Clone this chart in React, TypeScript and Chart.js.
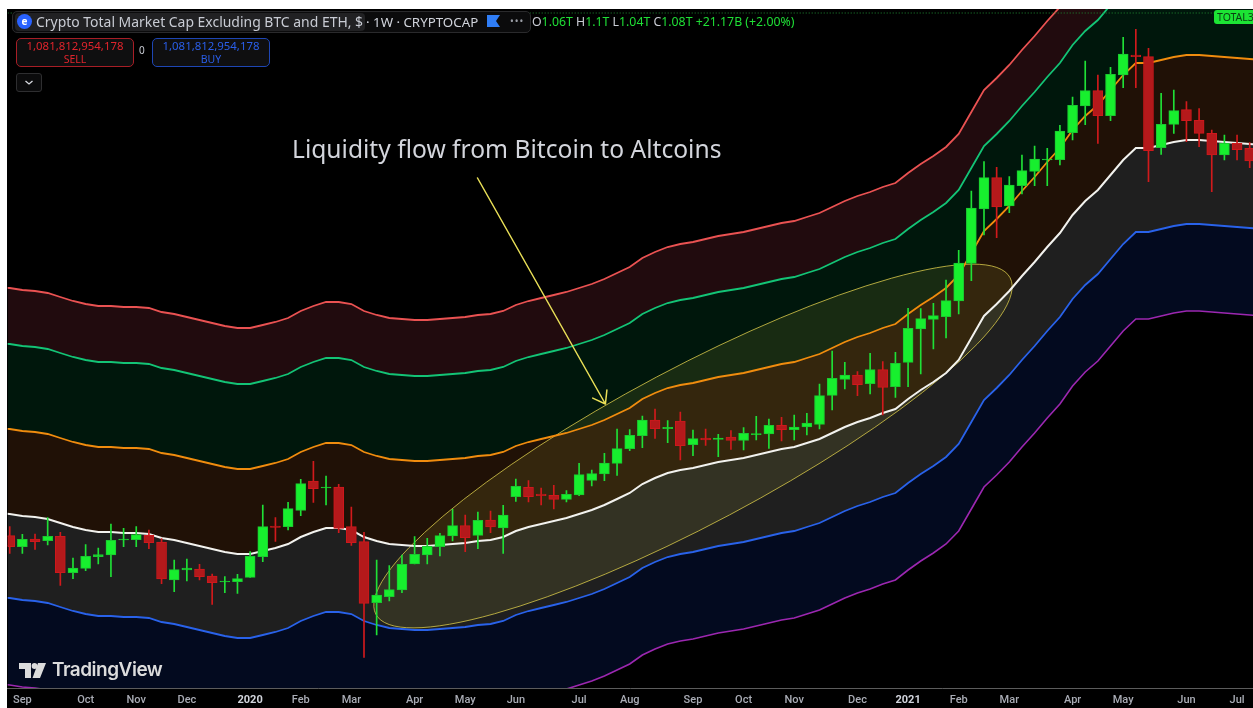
import React, { useEffect, useRef } from "react";
import { Chart, registerables } from "chart.js";

Chart.register(...registerables);

const tickWeeks = [1, 6, 10, 14, 19, 23, 27, 32, 36, 40, 45, 49, 54, 58, 62, 67, 71, 75, 79, 84, 88, 93, 97];
const tickLabels = ["Sep", "Oct", "Nov", "Dec", "2020", "Feb", "Mar", "Apr", "May", "Jun", "Jul", "Aug", "Sep", "Oct", "Nov", "Dec", "2021", "Feb", "Mar", "Apr", "May", "Jun", "Jul"];

const opens = [
  152.3, 141.3, 149, 147.3, 151.7, 115.3, 119.7, 131.3, 133, 148,
  148.3, 152.7, 146, 108, 118, 119, 112, 106, 106.3, 110.7,
  131.3, 162, 161.3, 177.7, 207, 200, 201, 161.3, 146.3, 85.3,
  91.3, 98, 124, 133, 141.3, 152, 162.3, 152.7, 168, 160,
  191.3, 200.7, 194, 192.7, 188.7, 193, 207.7, 214, 224.7, 239.3,
  252.3, 268, 259.3, 267, 243.3, 250, 248.7, 251, 247.7, 253.3,
  254, 262.7, 258.3, 261, 263.7, 292.7, 308.7, 313, 304.3, 318.3,
  301.3, 325.7, 359, 368.7, 371.3, 387, 424.7, 479, 510.3, 482,
  502.3, 516.7, 528, 528.3, 555.3, 582, 597.3, 572.3, 613, 633,
  631.3, 540.3, 563.7, 578.3, 567.7, 554.7, 533, 544.7, 539.7,
];
const closes = [
  141.3, 148.7, 146.3, 151.7, 115.3, 120, 131.7, 133.3, 147.7, 149,
  153.3, 145.3, 109, 118.3, 120, 111.3, 105.3, 107, 109.3, 131.7,
  161.3, 160.7, 179.3, 204.3, 199.3, 201, 159.7, 145.3, 84.7, 93,
  98.3, 123.7, 133.7, 141.7, 152.3, 162.3, 150.3, 167.7, 161, 173,
  201.7, 191.3, 192.3, 188.7, 193.7, 213.3, 214.3, 225, 239.3, 252.7,
  268, 259.3, 260.7, 242.3, 249.3, 248, 250, 247.7, 254.7, 254.3,
  262.7, 258.3, 261, 265, 292.3, 309.7, 313, 303.3, 318.3, 300.7,
  324.7, 359.7, 369.3, 372.3, 387.3, 425, 480, 510.3, 481, 503,
  517.3, 529, 529, 557, 582.7, 597.3, 572.3, 613.7, 634, 631.3,
  537.3, 563.7, 577.3, 567.3, 554.7, 533, 544.7, 538.3, 527,
];
const highs = [
  161.3, 153.7, 154, 170.3, 155.7, 130, 143.3, 140, 164, 159.7,
  161.3, 158, 149.3, 128, 129, 123.7, 114, 111.3, 113.7, 136.3,
  183, 170.3, 185.7, 208.7, 226.7, 212, 203.7, 181, 155.7, 128,
  122.3, 133, 151.3, 149.7, 154.7, 178.7, 173, 176, 177, 182.7,
  209, 207.3, 200, 202.7, 197.3, 224.7, 218, 234.7, 259, 258.3,
  272, 279, 267.3, 276, 258, 259, 253.7, 257.3, 260.3, 271.7,
  269, 270.7, 273, 274.7, 304, 337, 325.7, 316.3, 334.7, 326.3,
  335.7, 379.7, 379.3, 384.7, 408, 437.7, 497, 526.3, 520.7, 511.3,
  533, 542, 539.7, 562.7, 591, 627, 613, 620.7, 650.7, 658.7,
  639.7, 594.7, 598, 586.3, 579.3, 558, 553, 553, 545.3,
];
const lows = [
  134.7, 134.7, 138.7, 143, 102.7, 109.3, 117.3, 124, 111.3, 141.3,
  141.3, 139.3, 104.3, 96.3, 107, 108, 83.7, 95.3, 94.7, 110.7,
  126.3, 146.7, 158, 172.3, 185.7, 183, 155.3, 142.7, 30.7, 53,
  87, 95.3, 124, 124, 132, 147, 136.3, 139.3, 155.3, 134.7,
  186.7, 186, 183, 179, 186, 192.3, 202, 207.3, 212.7, 237.3,
  240.3, 249.7, 245.3, 228, 232.3, 242.7, 231.3, 238.7, 238, 248,
  239.7, 247, 248, 253, 259, 278, 299, 292.3, 294, 273,
  290.7, 301.3, 314, 339, 350, 374, 407.3, 453, 450.3, 475.3,
  494, 502.3, 502.3, 523, 548, 563.3, 544.7, 567.3, 600.3, 600.3,
  506.3, 533.7, 554.7, 546.3, 541.3, 496.3, 528, 528, 520.3,
];

// Bands run from the week before the first candle to the week after the last one.
const bandWhite = [
  175,
  174, 172, 171, 169, 165, 161, 158, 156, 156, 155,
  155, 154, 150, 148, 145, 142, 139, 136, 134, 134,
  137, 140, 144, 151, 156, 160, 160, 158, 151, 147,
  144, 143, 142, 142, 143, 144, 145, 147, 148, 151,
  157, 161, 164, 167, 170, 174, 178, 183, 189, 195,
  204, 210, 215, 218, 220, 223, 226, 228, 230, 233,
  236, 239, 241, 245, 249, 255, 261, 266, 270, 275,
  279, 289, 298, 306, 315, 328, 350, 372, 384, 397,
  412, 426, 441, 455, 473, 487, 498, 513, 528, 540,
  540, 543, 546, 548, 548, 547, 546, 545, 544, 543,
];
const bandOrange = [
  260,
  259, 257, 256, 254, 250, 246, 243, 241, 241, 240,
  240, 239, 235, 233, 230, 227, 224, 221, 219, 219,
  222, 225, 229, 236, 241, 245, 245, 243, 236, 232,
  229, 228, 227, 227, 228, 229, 230, 232, 233, 236,
  242, 246, 249, 252, 255, 259, 263, 268, 274, 280,
  289, 295, 300, 303, 305, 308, 311, 313, 315, 318,
  321, 324, 326, 330, 334, 340, 346, 351, 355, 360,
  364, 374, 383, 391, 400, 413, 435, 457, 469, 482,
  497, 511, 526, 540, 558, 572, 583, 598, 613, 625,
  625, 628, 631, 633, 633, 632, 631, 630, 629, 628,
];
const bandGreen = [
  345,
  344, 342, 341, 339, 335, 331, 328, 326, 326, 325,
  325, 324, 320, 318, 315, 312, 309, 306, 304, 304,
  307, 310, 314, 321, 326, 330, 330, 328, 321, 317,
  314, 313, 312, 312, 313, 314, 315, 317, 318, 321,
  327, 331, 334, 337, 340, 344, 348, 353, 359, 365,
  374, 380, 385, 388, 390, 393, 396, 398, 400, 403,
  406, 409, 411, 415, 419, 425, 431, 436, 440, 445,
  449, 459, 468, 476, 485, 498, 520, 542, 554, 567,
  582, 596, 611, 625, 643, 657, 668, 683, 698, 710,
  710, 713, 716, 718, 718, 717, 716, 715, 714, 713,
];
const bandRed = [
  401,
  400, 398, 397, 395, 391, 387, 384, 382, 382, 381,
  381, 380, 376, 374, 371, 368, 365, 362, 360, 360,
  363, 366, 370, 377, 382, 386, 386, 384, 377, 373,
  370, 369, 368, 368, 369, 370, 371, 373, 374, 377,
  383, 387, 390, 393, 396, 400, 404, 409, 415, 421,
  430, 436, 441, 444, 446, 449, 452, 454, 456, 459,
  462, 465, 467, 471, 475, 481, 487, 492, 496, 501,
  505, 515, 524, 532, 541, 554, 576, 598, 610, 623,
  638, 652, 667, 681, 699, 713, 724, 739, 754, 766,
  766, 769, 772, 774, 774, 773, 772, 771, 770, 769,
];
const bandBlue = [
  91,
  90, 88, 87, 85, 81, 77, 74, 72, 72, 71,
  71, 70, 66, 64, 61, 58, 55, 52, 50, 50,
  53, 56, 60, 67, 72, 76, 76, 74, 67, 63,
  60, 59, 58, 58, 59, 60, 61, 63, 64, 67,
  73, 77, 80, 83, 86, 90, 94, 99, 105, 111,
  120, 126, 131, 134, 136, 139, 142, 144, 146, 149,
  152, 155, 157, 161, 165, 171, 177, 182, 186, 191,
  195, 205, 214, 222, 231, 244, 266, 288, 300, 313,
  328, 342, 357, 371, 389, 403, 414, 429, 444, 456,
  456, 459, 462, 464, 464, 463, 462, 461, 460, 459,
];
const bandPurple = [
  4,
  3, 1, 0, -2, -6, -10, -13, -15, -15, -16,
  -16, -17, -21, -23, -26, -29, -32, -35, -37, -37,
  -34, -31, -27, -20, -15, -11, -11, -13, -20, -24,
  -27, -28, -29, -29, -28, -27, -26, -24, -23, -20,
  -14, -10, -7, -4, -1, 3, 7, 12, 18, 24,
  33, 39, 44, 47, 49, 52, 55, 57, 59, 62,
  65, 68, 70, 74, 78, 84, 90, 95, 99, 104,
  108, 118, 127, 135, 144, 157, 179, 201, 213, 226,
  241, 255, 270, 284, 302, 316, 327, 342, 357, 369,
  369, 372, 375, 377, 377, 376, 375, 374, 373, 372,
];

const lastPriceLevel = 675;
const weekRange = [-0.16, 98.26];
const levelRange = [0, 679];
const ellipseCentre = { week: 54.0, level: 242 };
const arrowFrom = { week: 36.97, level: 510 };
const arrowTo = { week: 47.08, level: 284 };

const UP = "#17ef2e";
const UP_EDGE = "#1cc731";
const UP_WICK = "#1fe036";
const DOWN = "#b4191b";
const DOWN_EDGE = "#cf181c";
const DOWN_WICK = "#d11a1c";
const FONT = '"Noto Sans", sans-serif';

const points = (vals: number[]) => vals.map((y, i) => ({ x: i - 1, y }));
const isYearTick = (c: any) => (tickLabels[tickWeeks.indexOf(c?.tick?.value)] || "").length === 4;

const drawings = {
  id: "drawings",
  beforeDatasetsDraw(chart: any) {
    const { ctx, scales, chartArea } = chart;
    ctx.save();
    ctx.beginPath();
    ctx.rect(chartArea.left, chartArea.top, chartArea.width, chartArea.height);
    ctx.clip();
    ctx.beginPath();
    ctx.ellipse(
      scales.x.getPixelForValue(ellipseCentre.week),
      scales.y.getPixelForValue(ellipseCentre.level),
      359, 78, -0.488, 0, Math.PI * 2
    );
    ctx.fillStyle = "rgba(235, 225, 80, 0.1)";
    ctx.fill();
    ctx.strokeStyle = "rgba(205, 190, 70, 0.85)";
    ctx.lineWidth = 1;
    ctx.stroke();
    ctx.restore();
  },
  afterDatasetsDraw(chart: any) {
    const { ctx, scales } = chart;
    const x0 = scales.x.getPixelForValue(arrowFrom.week);
    const y0 = scales.y.getPixelForValue(arrowFrom.level);
    const x1 = scales.x.getPixelForValue(arrowTo.week);
    const y1 = scales.y.getPixelForValue(arrowTo.level);
    const a = Math.atan2(y1 - y0, x1 - x0);
    ctx.save();
    ctx.strokeStyle = "#e9df57";
    ctx.lineWidth = 1.5;
    ctx.lineCap = "round";
    ctx.beginPath();
    ctx.moveTo(x0, y0);
    ctx.lineTo(x1, y1);
    for (const s of [-1, 1]) {
      ctx.moveTo(x1, y1);
      ctx.lineTo(x1 - 14 * Math.cos(a + s * 0.62), y1 - 14 * Math.sin(a + s * 0.62));
    }
    ctx.stroke();
    ctx.restore();
  },
};

const box = (extra: React.CSSProperties): React.CSSProperties => ({
  position: "absolute",
  boxSizing: "border-box",
  whiteSpace: "nowrap",
  fontFamily: FONT,
  ...extra,
});

function ValueButton(props: { left: number; color: string; fill: string; word: string }) {
  return (
    <div
      style={box({
        left: props.left, top: 38, width: 118, height: 29,
        border: `1px solid ${props.color}`, borderRadius: 5, background: "#0f0f10",
        color: props.fill, textAlign: "center", fontSize: 11.4, lineHeight: "12.5px", paddingTop: 1,
      })}
    >
      <div>1,081,812,954,178</div>
      <div style={{ fontSize: 10.5 }}>{props.word}</div>
    </div>
  );
}

export default function App() {
  const ref = useRef<HTMLCanvasElement>(null);

  useEffect(() => {
    const band = (label: string, vals: number[], color: string, fillColor: string | false, order: number, width = 1.8) => ({
      type: "line" as const,
      label,
      data: points(vals),
      borderColor: color,
      borderWidth: width,
      backgroundColor: fillColor || "transparent",
      fill: fillColor ? "-1" : false,
      pointRadius: 0,
      tension: 0,
      order,
    });
    const chart = new Chart(ref.current as HTMLCanvasElement, {
      data: {
        datasets: [
          band("Lower 2", bandPurple, "#9c27b0", false, 8, 1.6),
          band("Lower 1", bandBlue, "#2962ea", "#030a1f", 7),
          band("Basis", bandWhite, "#f2f2ee", "#1f1f1f", 3, 2),
          band("Upper 1", bandOrange, "#f08c0e", "#201106", 6),
          band("Upper 2", bandGreen, "#13c476", "#00170c", 5),
          band("Upper 3", bandRed, "#ea5252", "#210b0e", 4),
          {
            type: "line" as const,
            label: "Last",
            data: [
              { x: weekRange[0], y: lastPriceLevel },
              { x: weekRange[1], y: lastPriceLevel },
            ],
            borderColor: "#1f8a33",
            borderWidth: 1,
            borderDash: [1, 2],
            pointRadius: 0,
            fill: false,
            order: 2,
          },
          {
            type: "bar" as const,
            label: "Wicks",
            data: highs.map((h, x) => ({ x, y: [lows[x], h] })),
            backgroundColor: closes.map((c, i) => (c >= opens[i] ? UP_WICK : DOWN_WICK)),
            barThickness: 1,
            borderWidth: 0,
            grouped: false,
            order: 1,
          },
          {
            type: "bar" as const,
            label: "Bodies",
            data: opens.map((o, x) => ({ x, y: [o, closes[x]] })),
            backgroundColor: closes.map((c, i) => (c >= opens[i] ? UP : DOWN)),
            borderColor: closes.map((c, i) => (c >= opens[i] ? UP_EDGE : DOWN_EDGE)),
            borderWidth: 1,
            borderSkipped: false,
            barThickness: 10,
            grouped: false,
            order: 0,
          },
        ],
      },
      options: {
        responsive: false,
        animation: false,
        events: [],
        layout: { padding: 0 },
        plugins: {
          legend: { display: false },
          tooltip: { enabled: false },
          filler: { drawTime: "beforeDatasetsDraw", propagate: false },
        },
        scales: {
          x: {
            type: "linear",
            offset: false,
            min: weekRange[0],
            max: weekRange[1],
            grid: { display: false, drawTicks: false, offset: false },
            border: { display: true, color: "#5c5c5c", width: 1 },
            afterBuildTicks: (s: any) => {
              s.ticks = tickWeeks.map((value) => ({ value }));
            },
            afterFit: (s: any) => {
              s.height = 20;
            },
            ticks: {
              autoSkip: false,
              maxRotation: 0,
              padding: 6,
              callback: (v: any) => tickLabels[tickWeeks.indexOf(v)],
              color: (c: any) => (isYearTick(c) ? "#d1d4dc" : "#a9acb5"),
              font: (c: any) => ({
                family: "Roboto, sans-serif",
                size: 11,
                weight: isYearTick(c) ? 700 : 500,
              }),
            },
          },
          y: { type: "linear", display: false, min: levelRange[0], max: levelRange[1] },
        },
      } as any,
      plugins: [drawings],
    } as any);
    return () => chart.destroy();
  }, []);

  return (
    <div style={{ position: "absolute", left: 0, top: 0, width: 1253, height: 708, background: "#fff", overflow: "hidden" }}>
      <canvas
        ref={ref}
        width={1246}
        height={699}
        style={{ position: "absolute", left: 7, top: 9, width: 1246, height: 699, background: "#000" }}
      />

      {/* symbol strip */}
      <div style={box({ left: 12, top: 11, width: 519, height: 22, border: "1px solid #2a2a2c", borderRadius: 5, background: "#0b0b0c" })} />
      <div style={box({ left: 15, top: 13, width: 350, height: 18, borderRadius: 4, background: "#212123" })} />
      <div style={box({ left: 17, top: 14, width: 15, height: 15, borderRadius: 8, background: "#2962ff", color: "#fff", fontSize: 10, lineHeight: "15px", textAlign: "center", fontWeight: 700 })}>e</div>
      <div style={box({ left: 36, top: 12, color: "#c9ccd4", fontSize: 13.95, lineHeight: "20px" })}>Crypto Total Market Cap Excluding BTC and ETH, $</div>
      <div style={box({ left: 366, top: 12, color: "#d1d4dc", fontSize: 13.3, lineHeight: "20px" })}>· 1W · CRYPTOCAP</div>
      <svg style={{ position: "absolute", left: 487, top: 15 }} width="13" height="12">
        <polygon points="0,0 13,0 9,6 13,12 0,12" fill="#2f7df6" />
      </svg>
      <div style={box({ left: 510, top: 11, color: "#9a9da5", fontSize: 10, lineHeight: "20px", letterSpacing: 1 })}>•••</div>

      {/* values */}
      <div style={box({ left: 532, top: 12, fontSize: 12.3, lineHeight: "20px", color: "#1fe036" })}>
        <span style={{ color: "#c9ccd4" }}>O</span>1.06T <span style={{ color: "#c9ccd4" }}>H</span>1.1T{" "}
        <span style={{ color: "#c9ccd4" }}>L</span>1.04T <span style={{ color: "#c9ccd4" }}>C</span>1.08T +21.17B (+2.00%)
      </div>

      <ValueButton left={16} color="#a81e26" fill="#e0242c" word="SELL" />
      <div style={box({ left: 139, top: 43, color: "#c9ccd4", fontSize: 10, lineHeight: "14px" })}>0</div>
      <ValueButton left={152} color="#1e46b4" fill="#2a5ee8" word="BUY" />
      <div style={box({ left: 16, top: 73, width: 26, height: 19, border: "1px solid #2e2e30", borderRadius: 3, background: "#0b0b0c" })}>
        <svg width="24" height="17">
          <polyline points="8.5,7 12,10 15.5,7" fill="none" stroke="#d8dae0" strokeWidth="1.3" />
        </svg>
      </div>

      {/* note on the chart */}
      <div style={box({ left: 292, top: 132, color: "#d3d5dc", fontSize: 24.6, lineHeight: "34px" })}>Liquidity flow from Bitcoin to Altcoins</div>

      {/* last price tag */}
      <div style={box({ left: 1214, top: 10, width: 39, height: 14, borderRadius: "3px 0 0 3px", background: "#1ce434", color: "#0b3d12", fontSize: 10.5, lineHeight: "14px", paddingLeft: 3, overflow: "hidden" })}>TOTAL3</div>

      {/* watermark */}
      <svg style={{ position: "absolute", left: 19, top: 663 }} width="28" height="15">
        <polygon points="0,0 12,0 12,15 6,15 6,6 0,6" fill="#dcdcdc" />
        <circle cx="15.5" cy="3" r="2.9" fill="#dcdcdc" />
        <polygon points="19,0 27,0 21,15 13.5,15" fill="#dcdcdc" />
      </svg>
      <div style={box({ left: 52, top: 656, color: "#dcdcdc", fontSize: 19, fontWeight: 600, lineHeight: "28px", fontFamily: "Inter, sans-serif", letterSpacing: -0.5 })}>TradingView</div>
    </div>
  );
}
